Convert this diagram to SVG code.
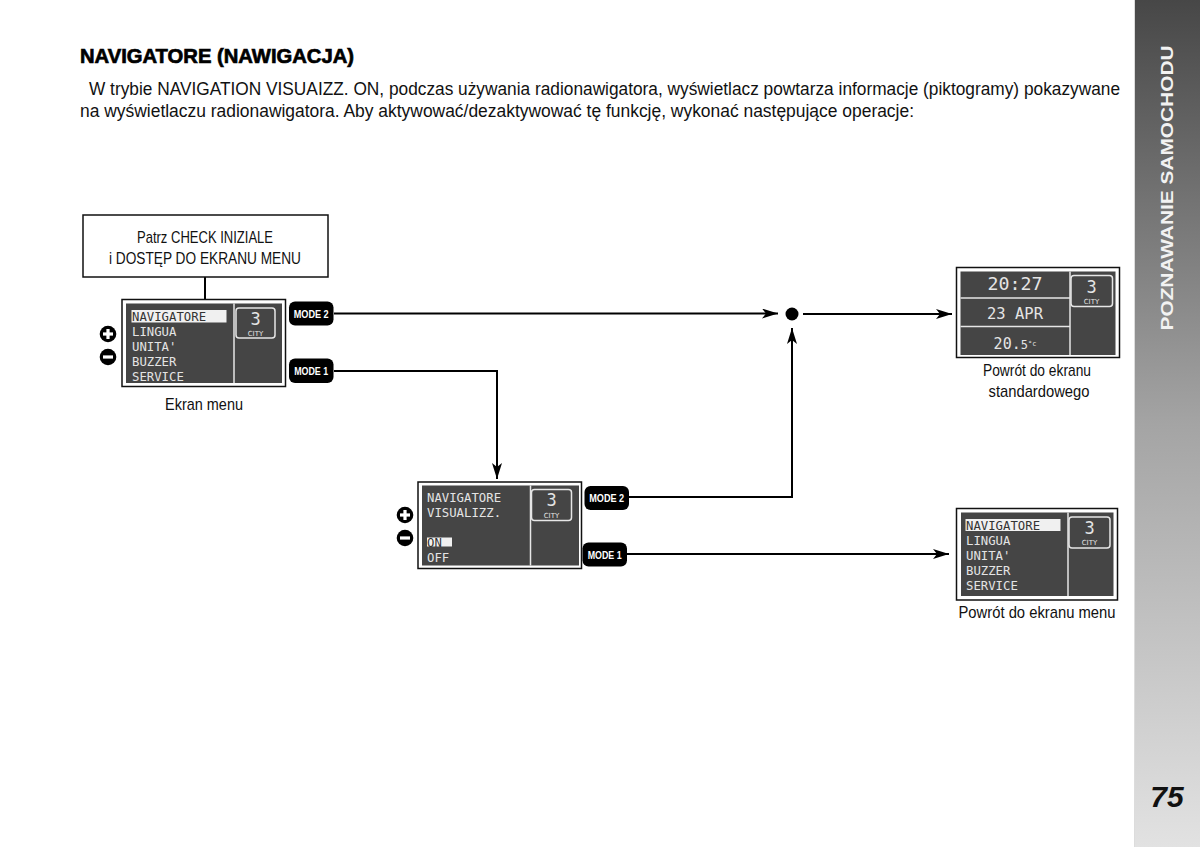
<svg xmlns="http://www.w3.org/2000/svg" width="1200" height="847" viewBox="0 0 1200 847">
<defs>
<linearGradient id="side" x1="0" y1="0" x2="0" y2="1">
<stop offset="0" stop-color="#474747"/>
<stop offset="0.5" stop-color="#a4a4a4"/>
<stop offset="1" stop-color="#e2e2e2"/>
</linearGradient>
<marker id="arr" viewBox="0 0 16 10" refX="16" refY="5" markerWidth="16" markerHeight="10" markerUnits="userSpaceOnUse" orient="auto">
<path d="M0,0 L16,5 L0,10 L4,5 Z" fill="#000"/>
</marker>
<g id="plusminus">
<circle cx="0" cy="0" r="8.3" fill="#000"/>
<rect x="-5" y="-1.6" width="10" height="3.2" fill="#fff"/>
<rect x="-1.6" y="-5" width="3.2" height="10" fill="#fff"/>
<circle cx="0" cy="23" r="8.3" fill="#000"/>
<rect x="-5" y="21.4" width="10" height="3.2" fill="#fff"/>
</g>
</defs>
<style>
.body{font-family:"Liberation Sans",Arial,sans-serif;font-size:17.5px;fill:#111}
.title{font-family:"Liberation Sans",Arial,sans-serif;font-size:21px;font-weight:bold;fill:#000;stroke:#000;stroke-width:0.7}
.lbl{font-family:"Liberation Sans",Arial,sans-serif;font-size:17px;fill:#111}
.frame{fill:#fff;stroke:#111;stroke-width:1.5}
.lcd{fill:#454545}
.lcdline{stroke:#e6e6e6;stroke-width:1.5;fill:none}
.lcdt{font-family:"DejaVu Sans Mono",monospace;font-size:12.3px;fill:#e4e4e4}
.lcdh{font-family:"DejaVu Sans Mono",monospace;font-size:12.3px;fill:#333}
.big{font-family:"DejaVu Sans Mono",monospace;fill:#e4e4e4;text-anchor:middle}
.city{font-family:"DejaVu Sans",sans-serif;font-size:7px;fill:#e4e4e4;text-anchor:middle}
.btn{fill:#000}
.btnt{font-family:"Liberation Sans",Arial,sans-serif;font-size:10.5px;font-weight:bold;fill:#fff;text-anchor:middle}
.conn{stroke:#000;stroke-width:2;fill:none}
</style>

<rect width="1200" height="847" fill="#fff"/>

<g id="sidebar">
<rect x="1134" y="0" width="66" height="847" fill="url(#side)"/>
<line x1="1134.5" y1="0" x2="1134.5" y2="847" stroke="#dcdcdc" stroke-width="1"/>
<text transform="translate(1173,188) rotate(-90)" text-anchor="middle" font-family="Liberation Sans,Arial,sans-serif" font-weight="bold" font-size="17" fill="#f2f2f2" textLength="285" lengthAdjust="spacingAndGlyphs">POZNAWANIE SAMOCHODU</text>
<text x="1167" y="807" text-anchor="middle" font-family="Liberation Sans,Arial,sans-serif" font-weight="bold" font-style="italic" font-size="30" fill="#111">75</text>
</g>

<g id="header">
<text class="title" x="80" y="62.5" textLength="274" lengthAdjust="spacingAndGlyphs">NAVIGATORE (NAWIGACJA)</text>
<text class="body" x="89" y="95" textLength="1031" lengthAdjust="spacingAndGlyphs">W trybie NAVIGATION VISUAIZZ. ON, podczas używania radionawigatora, wyświetlacz powtarza informacje (piktogramy) pokazywane</text>
<text class="body" x="80" y="117" textLength="834" lengthAdjust="spacingAndGlyphs">na wyświetlaczu radionawigatora. Aby aktywować/dezaktywować tę funkcję, wykonać następujące operacje:</text>
</g>

<g id="connectors">
<line class="conn" x1="205" y1="277" x2="205" y2="299"/>
<line class="conn" x1="334" y1="313.5" x2="778" y2="313.5" marker-end="url(#arr)"/>
<line class="conn" x1="803" y1="314" x2="952" y2="314" marker-end="url(#arr)"/>
<circle cx="792" cy="314" r="6.5" fill="#000"/>
<polyline class="conn" points="334,371 497,371 497,479" marker-end="url(#arr)"/>
<polyline class="conn" points="629,497 792,497 792,328" marker-end="url(#arr)"/>
<line class="conn" x1="627" y1="554" x2="949" y2="554" marker-end="url(#arr)"/>
</g>

<g id="start">
<rect x="83" y="215" width="245" height="62" fill="#fff" stroke="#111" stroke-width="1.5"/>
<text class="lbl" x="205" y="243" text-anchor="middle" textLength="136" lengthAdjust="spacingAndGlyphs">Patrz CHECK INIZIALE</text>
<text class="lbl" x="205" y="263.5" text-anchor="middle" textLength="192" lengthAdjust="spacingAndGlyphs">i DOSTĘP DO EKRANU MENU</text>
</g>

<g id="menu1">
<rect class="frame" x="122" y="299.5" width="163.5" height="87"/>
<rect class="lcd" x="126" y="303.5" width="156" height="79.5"/>
<line class="lcdline" x1="234" y1="303.5" x2="234" y2="383"/>
<rect class="lcdline" x="236" y="308" width="39" height="30" rx="3"/>
<text class="big" x="255.5" y="325" font-size="17">3</text>
<text class="city" x="255.5" y="335.5">CITY</text>
<rect x="131.5" y="310" width="95" height="12.5" fill="#f0f0f0"/>
<text class="lcdh" x="132" y="321">NAVIGATORE</text>
<text class="lcdt" x="132" y="336">LINGUA</text>
<text class="lcdt" x="132" y="351">UNITA'</text>
<text class="lcdt" x="132" y="366">BUZZER</text>
<text class="lcdt" x="132" y="381">SERVICE</text>
<use href="#plusminus" x="108" y="334"/>
<text class="lbl" x="204" y="410" text-anchor="middle" textLength="78" lengthAdjust="spacingAndGlyphs">Ekran menu</text>
<rect class="btn" x="289" y="301.5" width="44.5" height="24" rx="6"/>
<text class="btnt" x="311.2" y="317.5" textLength="35" lengthAdjust="spacingAndGlyphs">MODE 2</text>
<rect class="btn" x="289" y="358.5" width="44.5" height="24.5" rx="6"/>
<text class="btnt" x="311.2" y="374.8" textLength="34" lengthAdjust="spacingAndGlyphs">MODE 1</text>
</g>

<g id="navscreen">
<rect class="frame" x="418" y="482" width="163.5" height="86.5"/>
<rect class="lcd" x="422" y="485.5" width="157" height="80"/>
<line class="lcdline" x1="530.5" y1="485.5" x2="530.5" y2="565.5"/>
<rect class="lcdline" x="531.5" y="489.5" width="40" height="31" rx="3"/>
<text class="big" x="551.5" y="506" font-size="17">3</text>
<text class="city" x="551.5" y="517.5">CITY</text>
<text class="lcdt" x="427" y="502">NAVIGATORE</text>
<text class="lcdt" x="427" y="517">VISUALIZZ.</text>
<rect x="427" y="537.5" width="25" height="9" fill="#f0f0f0"/>
<text class="lcdh" x="427" y="546.5">ON</text>
<text class="lcdt" x="427" y="561.5">OFF</text>
<use href="#plusminus" x="405" y="515"/>
<rect class="btn" x="584.5" y="486" width="44.5" height="24" rx="6"/>
<text class="btnt" x="606.7" y="502" textLength="35" lengthAdjust="spacingAndGlyphs">MODE 2</text>
<rect class="btn" x="582.5" y="542.5" width="44.5" height="24" rx="6"/>
<text class="btnt" x="604.7" y="558.5" textLength="34" lengthAdjust="spacingAndGlyphs">MODE 1</text>
</g>

<g id="standard">
<rect class="frame" x="956.5" y="267.5" width="163" height="90"/>
<rect class="lcd" x="960.5" y="271.5" width="155" height="83.5"/>
<line class="lcdline" x1="1070" y1="271.5" x2="1070" y2="355"/>
<line class="lcdline" x1="960.5" y1="298" x2="1070" y2="298"/>
<line class="lcdline" x1="960.5" y1="326.5" x2="1070" y2="326.5"/>
<rect class="lcdline" x="1071" y="275.5" width="41.5" height="31" rx="3"/>
<text class="big" x="1091.5" y="293" font-size="17">3</text>
<text class="city" x="1091.5" y="304">CITY</text>
<text class="big" x="1015" y="290" font-size="18" textLength="55" lengthAdjust="spacingAndGlyphs">20:27</text>
<text class="big" x="1015" y="319" font-size="15" textLength="56" lengthAdjust="spacingAndGlyphs">23 APR</text>
<text class="big" x="1015" y="349" font-size="15">20.<tspan font-size="12">5</tspan><tspan font-size="7" dy="-3">°c</tspan></text>
<text class="lbl" x="1037" y="376" text-anchor="middle" textLength="108" lengthAdjust="spacingAndGlyphs">Powrót do ekranu</text>
<text class="lbl" x="1039" y="397" text-anchor="middle" textLength="101" lengthAdjust="spacingAndGlyphs">standardowego</text>
</g>

<g id="menu2">
<rect class="frame" x="956.5" y="508.5" width="161" height="91.5"/>
<rect class="lcd" x="961" y="512.5" width="152.5" height="83.5"/>
<line class="lcdline" x1="1068" y1="512.5" x2="1068" y2="596"/>
<rect class="lcdline" x="1069" y="517" width="41" height="31" rx="3"/>
<text class="big" x="1089.5" y="533.5" font-size="17">3</text>
<text class="city" x="1089.5" y="545">CITY</text>
<rect x="965.5" y="519" width="95" height="12" fill="#f0f0f0"/>
<text class="lcdh" x="966" y="530">NAVIGATORE</text>
<text class="lcdt" x="966" y="545">LINGUA</text>
<text class="lcdt" x="966" y="560">UNITA'</text>
<text class="lcdt" x="966" y="575">BUZZER</text>
<text class="lcdt" x="966" y="590">SERVICE</text>
<text class="lbl" x="1037" y="618" text-anchor="middle" textLength="157" lengthAdjust="spacingAndGlyphs">Powrót do ekranu menu</text>
</g>
</svg>
